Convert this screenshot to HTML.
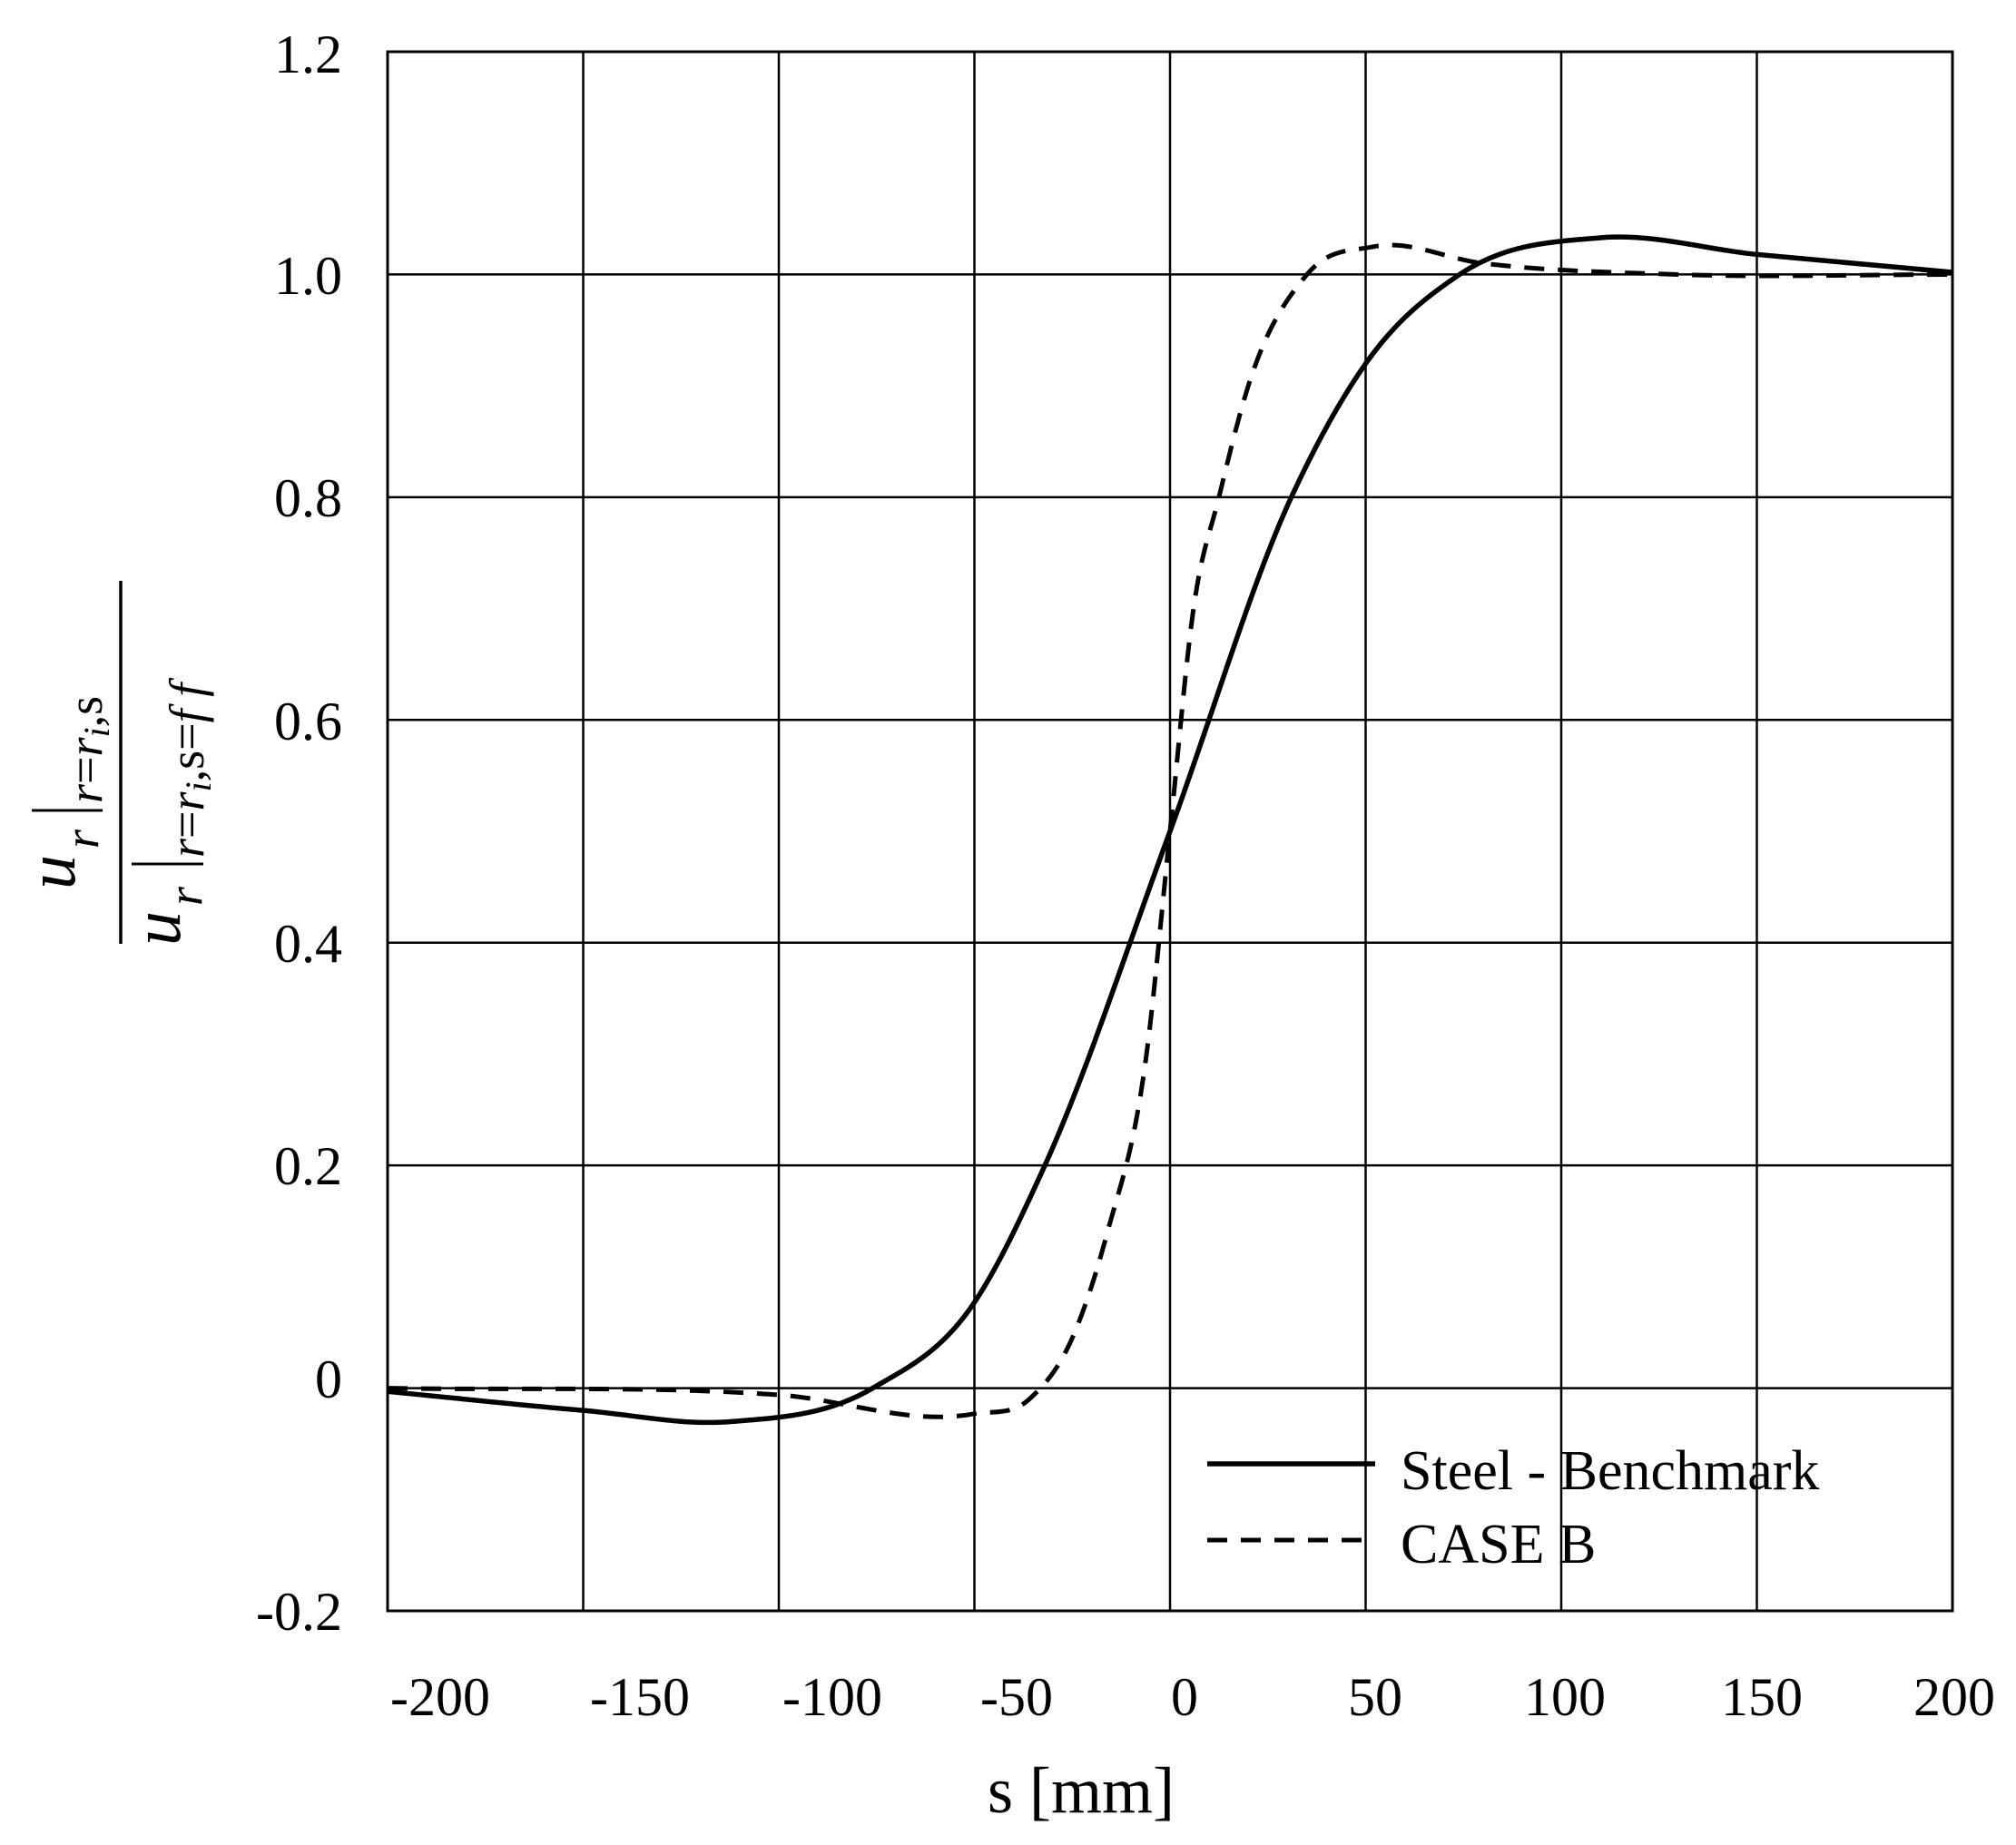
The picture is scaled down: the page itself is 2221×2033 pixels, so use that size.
<!DOCTYPE html>
<html><head><meta charset="utf-8"><style>
html,body{margin:0;padding:0;background:#fff;}
svg{display:block;}
text{font-family:"Liberation Serif",serif;fill:#000;}
</style></head><body>
<svg id="s" width="2221" height="2033" viewBox="0 0 2221 2033" xmlns="http://www.w3.org/2000/svg">
<rect width="2221" height="2033" fill="#fff"/>
<g stroke="#000" stroke-width="2.5" fill="none">
<line x1="642.5" y1="57" x2="642.5" y2="1775"/>
<line x1="858" y1="57" x2="858" y2="1775"/>
<line x1="1073.5" y1="57" x2="1073.5" y2="1775"/>
<line x1="1289" y1="57" x2="1289" y2="1775"/>
<line x1="1504.5" y1="57" x2="1504.5" y2="1775"/>
<line x1="1720" y1="57" x2="1720" y2="1775"/>
<line x1="1935.5" y1="57" x2="1935.5" y2="1775"/>
<line x1="427" y1="302.4" x2="2151" y2="302.4"/>
<line x1="427" y1="547.9" x2="2151" y2="547.9"/>
<line x1="427" y1="793.3" x2="2151" y2="793.3"/>
<line x1="427" y1="1038.7" x2="2151" y2="1038.7"/>
<line x1="427" y1="1284.1" x2="2151" y2="1284.1"/>
<line x1="427" y1="1529.6" x2="2151" y2="1529.6"/>
<rect x="427" y="57" width="1724" height="1718" stroke-width="3"/>
</g>
<path id="solid" fill="none" stroke="#000" stroke-width="5.5"/>
<path id="dash" fill="none" stroke="#000" stroke-width="5" stroke-dasharray="22 15"/>
<g font-size="60" text-anchor="end">
<text x="377" y="80">1.2</text>
<text x="377" y="324">1.0</text>
<text x="377" y="569">0.8</text>
<text x="377" y="815">0.6</text>
<text x="377" y="1060">0.4</text>
<text x="377" y="1305">0.2</text>
<text x="377" y="1540">0</text>
<text x="377" y="1796">-0.2</text>
</g>
<g font-size="60" text-anchor="middle">
<text x="485" y="1890">-200</text>
<text x="705" y="1890">-150</text>
<text x="917" y="1890">-100</text>
<text x="1120" y="1890">-50</text>
<text x="1305" y="1890">0</text>
<text x="1515" y="1890">50</text>
<text x="1724" y="1890">100</text>
<text x="1941" y="1890">150</text>
<text x="2153" y="1890">200</text>
</g>
<text x="1191" y="1997" font-size="72" text-anchor="middle">s [mm]</text>
<line x1="1330" y1="1613" x2="1515" y2="1613" stroke="#000" stroke-width="5.5"/>
<line x1="1330" y1="1697" x2="1515" y2="1697" stroke="#000" stroke-width="5" stroke-dasharray="22 15"/>
<text x="1543" y="1641" font-size="62">Steel - Benchmark</text>
<text x="1543" y="1722" font-size="62">CASE B</text>
<line x1="133" y1="640" x2="133" y2="1040" stroke="#000" stroke-width="3.5"/>
<g font-style="italic">
<text x="82" y="980" font-size="76" transform="rotate(-90 82 980)">u</text>
<text x="108" y="935" font-size="54" transform="rotate(-90 108 935)">r</text>
<line x1="35" y1="893" x2="113" y2="893" stroke="#000" stroke-width="3"/>
<text x="112" y="885" font-size="54" transform="rotate(-90 112 885)">r<tspan font-style="normal">=</tspan>r<tspan font-size="40" dy="8">i</tspan><tspan dy="-8" font-style="normal">,s</tspan></text>
<text x="198" y="1042" font-size="76" transform="rotate(-90 198 1042)">u</text>
<text x="222" y="998" font-size="54" transform="rotate(-90 222 998)">r</text>
<line x1="145" y1="952" x2="224" y2="952" stroke="#000" stroke-width="3"/>
<text x="224" y="945" font-size="54" transform="rotate(-90 224 945)">r<tspan font-style="normal">=</tspan>r<tspan font-size="40" dy="8">i</tspan><tspan dy="-8" font-style="normal">,s=</tspan>f f</text>
</g>
</svg>
<script>
function X(s){return 427+(s+200)/400*1724;}
function Y(v){return 1529.6-v*1227.1;}
function path(pts){
 var p=pts.map(function(a){return [X(a[0]),Y(a[1])];});
 var n=p.length,m=[];
 for(var i=0;i<n;i++){
  if(i==0) m[i]=(p[1][1]-p[0][1])/(p[1][0]-p[0][0]);
  else if(i==n-1) m[i]=(p[i][1]-p[i-1][1])/(p[i][0]-p[i-1][0]);
  else{
   var h0=p[i][0]-p[i-1][0],h1=p[i+1][0]-p[i][0];
   var d0=(p[i][1]-p[i-1][1])/h0,d1=(p[i+1][1]-p[i][1])/h1;
   m[i]=(d0*h1+d1*h0)/(h0+h1);
  }
 }
 var d="M"+p[0][0].toFixed(1)+","+p[0][1].toFixed(1);
 for(var i=0;i<n-1;i++){
  var h=(p[i+1][0]-p[i][0])/3;
  d+=" C"+(p[i][0]+h).toFixed(1)+","+(p[i][1]+m[i]*h).toFixed(1)+" "+(p[i+1][0]-h).toFixed(1)+","+(p[i+1][1]-m[i+1]*h).toFixed(1)+" "+p[i+1][0].toFixed(1)+","+p[i+1][1].toFixed(1);
 }
 return d;
}
var solid=[[-200,-0.003],[-150,-0.02],[-112,-0.03],[-76,0],[-50,0.077],[-32,0.2],[0,0.5],[31,0.8],[50,0.92],[74,1.0],[110,1.033],[150,1.018],[200,1.002]];
var dash=[[-200,0],[-100,-0.006],[-50,-0.023],[-36,-0.01],[-25,0.045],[-16,0.14],[-6,0.3],[0,0.5],[6,0.7],[12.5,0.8],[20,0.9],[35,1.0],[52,1.025],[80,1.01],[130,1.0],[200,1.0]];
document.getElementById("solid").setAttribute("d",path(solid));
document.getElementById("dash").setAttribute("d",path(dash));
</script>
</body></html>
